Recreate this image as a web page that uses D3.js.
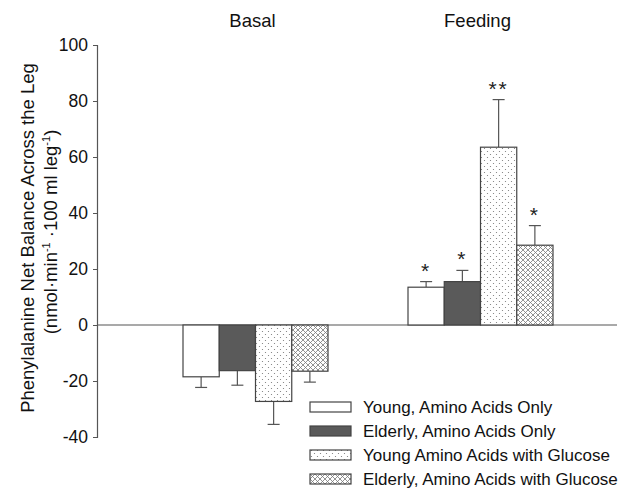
<!DOCTYPE html>
<html>
<head>
<meta charset="utf-8">
<script src="https://cdn.jsdelivr.net/npm/d3@7"></script>
<style>
  body { margin: 0; background: #fff; }
  svg { display: block; font-family: "Liberation Sans", Arial, sans-serif; }
</style>
</head>
<body>
<svg id="chart" width="629" height="488"></svg>
<script>
// data
const phases = ["Basal", "Feeding"];
const groups = [
  "Young, Amino Acids Only",
  "Elderly, Amino Acids Only",
  "Young Amino Acids with Glucose",
  "Elderly, Amino Acids with Glucose"
];
const basalMeans = [-18.5, -16.3, -27.3, -16.5];
const basalErrors = [3.8, 5.2, 8.2, 3.9];
const feedingMeans = [13.5, 15.5, 63.5, 28.5];
const feedingErrors = [2.0, 4.0, 17.0, 7.0];
const feedingMarks = ["*", "*", "**", "*"];
const yTicks = [-40, -20, 0, 20, 40, 60, 80, 100];

const svg = d3.select("#chart");
const axisColor = "#555";

const y = d3.scaleLinear().domain([-40, 100]).range([437, 45]);
const xPhase = d3.scaleBand().domain(phases).range([183, 553]).paddingInner(80 / 225).paddingOuter(0);
const xGroup = d3.scaleBand().domain(groups).range([0, xPhase.bandwidth()]).padding(0);

// fill patterns
const defs = svg.append("defs");
const dots = defs.append("pattern").attr("id", "dots")
  .attr("patternUnits", "userSpaceOnUse").attr("width", 6).attr("height", 6);
dots.append("rect").attr("width", 6).attr("height", 6).attr("fill", "#fff");
dots.append("circle").attr("cx", 1.5).attr("cy", 1.5).attr("r", 0.6).attr("fill", "#777");
dots.append("circle").attr("cx", 4.5).attr("cy", 4.5).attr("r", 0.6).attr("fill", "#777");

const hatch = defs.append("pattern").attr("id", "hatch")
  .attr("patternUnits", "userSpaceOnUse").attr("width", 5).attr("height", 5);
hatch.append("rect").attr("width", 5).attr("height", 5).attr("fill", "#fff");
hatch.append("path").attr("d", "M0,0L5,5M5,0L0,5M-1,4L1,6M4,-1L6,1M-1,1L1,-1M4,6L6,4")
  .attr("stroke", "#777").attr("stroke-width", 0.8);

const fills = ["#fff", "#5a5a5a", "url(#dots)", "url(#hatch)"];
const color = d3.scaleOrdinal().domain(groups).range(fills);

// y axis
const yAxis = svg.append("g").attr("transform", "translate(97,0)")
  .call(d3.axisLeft(y).tickValues(yTicks).tickSize(4).tickPadding(5).tickFormat(d => String(d)));
yAxis.select(".domain").attr("stroke", axisColor).attr("stroke-width", 1.2);
yAxis.selectAll(".tick line").attr("stroke", axisColor);
yAxis.selectAll(".tick text").attr("font-size", 17.5).attr("fill", "#111");

// zero line
svg.append("line")
  .attr("x1", 97).attr("x2", 617)
  .attr("y1", y(0)).attr("y2", y(0))
  .attr("stroke", axisColor).attr("stroke-width", 1.2);

// y title
svg.append("text")
  .attr("transform", "translate(0,238) rotate(-90)")
  .attr("text-anchor", "middle").attr("font-size", 18.5).attr("fill", "#111")
  .attr("x", 0).attr("y", 34)
  .text("Phenylalanine Net Balance Across the Leg");
const sub = svg.append("text")
  .attr("transform", "translate(0,232) rotate(-90)")
  .attr("text-anchor", "middle").attr("font-size", 18.5).attr("fill", "#111")
  .attr("y", 57);
sub.append("tspan").text("(nmol·min");
sub.append("tspan").attr("font-size", 11).attr("dy", -7).text("-1");
sub.append("tspan").attr("dy", 7).text(" ·100 ml leg");
sub.append("tspan").attr("font-size", 11).attr("dy", -7).text("-1");
sub.append("tspan").attr("dy", 7).text(")");

// phase labels
svg.selectAll(".phase").data(phases).join("text")
  .attr("x", d => xPhase(d) + xPhase.bandwidth() / 2 - 3)
  .attr("y", 27)
  .attr("text-anchor", "middle").attr("font-size", 18.5).attr("fill", "#111")
  .text(d => d);

const series = [
  { phase: "Basal", means: basalMeans, errors: basalErrors, marks: ["", "", "", ""] },
  { phase: "Feeding", means: feedingMeans, errors: feedingErrors, marks: feedingMarks }
];

series.forEach(s => {
  const rows = groups.map((g, i) => ({ group: g, mean: s.means[i], err: s.errors[i], mark: s.marks[i] }));
  const g = svg.append("g").attr("transform", `translate(${xPhase(s.phase)},0)`);
  const cx = d => xGroup(d.group) + xGroup.bandwidth() / 2;
  const tip = d => y(d.mean + Math.sign(d.mean) * d.err);

  // error bars (outward only)
  g.selectAll(".err").data(rows).join("line")
    .attr("x1", cx).attr("x2", cx)
    .attr("y1", d => y(d.mean)).attr("y2", tip)
    .attr("stroke", axisColor).attr("stroke-width", 1.2);
  g.selectAll(".cap").data(rows).join("line")
    .attr("x1", d => cx(d) - 6).attr("x2", d => cx(d) + 6)
    .attr("y1", tip).attr("y2", tip)
    .attr("stroke", axisColor).attr("stroke-width", 1.2);

  g.selectAll(".bar").data(rows).join("rect")
    .attr("x", d => xGroup(d.group))
    .attr("width", xGroup.bandwidth())
    .attr("y", d => y(Math.max(0, d.mean)))
    .attr("height", d => Math.abs(y(d.mean) - y(0)))
    .attr("fill", d => color(d.group))
    .attr("stroke", "#444").attr("stroke-width", 1.2);

  g.selectAll(".mark").data(rows.filter(d => d.mark)).join("text")
    .attr("x", cx).attr("y", d => tip(d) - 4)
    .attr("text-anchor", "middle").attr("font-size", 21).attr("fill", "#222")
    .attr("letter-spacing", 2)
    .text(d => d.mark);
});

// legend
const legend = svg.append("g").attr("transform", "translate(310,407)");
const item = legend.selectAll("g").data(groups).join("g")
  .attr("transform", (d, i) => `translate(0,${i * 24})`);
item.append("rect")
  .attr("x", 0).attr("y", -5).attr("width", 41).attr("height", 10)
  .attr("fill", d => color(d)).attr("stroke", "#444").attr("stroke-width", 1.2);
item.append("text")
  .attr("x", 53).attr("y", 6)
  .attr("font-size", 17).attr("fill", "#111")
  .text(d => d);
</script>
</body>
</html>
